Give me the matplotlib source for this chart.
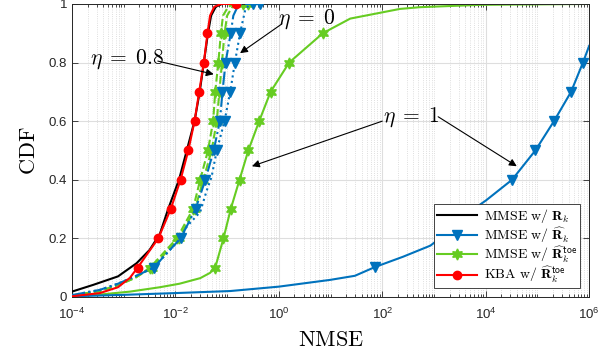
import numpy as np
import matplotlib
matplotlib.use('Agg')
import matplotlib.pyplot as plt
from matplotlib.lines import Line2D
from matplotlib.ticker import FixedLocator, NullFormatter

plt.rcParams['font.family'] = ['Liberation Sans', 'DejaVu Sans']
plt.rcParams['mathtext.fontset'] = 'cm'

BLUE = '#0072BD'
GREEN = '#66CC22'
RED = '#FF0000'
STAR = (6, 1, 0)

# log10(NMSE) and CDF values
black_lx = [-4.0, -3.59, -3.11, -2.75, -2.50, -2.30, -2.14, -1.93, -1.78, -1.63,
            -1.53, -1.45, -1.37, -1.31, -1.22, -1.10]
black_cdf = [0.018, 0.041, 0.070, 0.115, 0.160, 0.215, 0.30, 0.40, 0.50, 0.60,
             0.70, 0.80, 0.90, 0.96, 0.99, 1.0]

kba_lx = [-4.0, -3.46, -3.11, -2.88, -2.73, -2.33, -2.09, -1.90, -1.75, -1.63,
          -1.54, -1.45, -1.38, -1.33, -1.25, -1.12, -0.83]
kba_cdf = [0.002, 0.013, 0.033, 0.065, 0.10, 0.20, 0.30, 0.40, 0.50, 0.60,
           0.70, 0.80, 0.90, 0.96, 0.99, 1.0, 1.0]
kba_marks = [4, 5, 6, 7, 8, 9, 10, 11, 12, 16]

# eta = 0.8
hat08_lx = [-4.0, -3.46, -3.11, -2.78, -2.42, -1.90, -1.61, -1.42, -1.26, -1.14,
            -1.09, -1.03, -0.93, -0.88, -0.80, -0.72, -0.49]
hat08_cdf = [0.006, 0.024, 0.045, 0.07, 0.10, 0.20, 0.30, 0.40, 0.50, 0.60,
             0.70, 0.80, 0.90, 0.96, 0.99, 1.0, 1.0]
toe08_lx = [-4.0, -3.46, -3.11, -2.78, -2.49, -1.97, -1.66, -1.52, -1.37, -1.27,
            -1.23, -1.17, -1.12, -1.08, -0.98, -0.87, -0.69]
toe08_cdf = [0.005, 0.02, 0.04, 0.065, 0.10, 0.20, 0.30, 0.40, 0.50, 0.60,
             0.70, 0.80, 0.90, 0.96, 0.99, 1.0, 1.0]
eta08_marks = [4, 5, 6, 7, 8, 9, 10, 11, 12, 16]

# eta = 0
hat0_lx = [-4.0, -3.46, -3.11, -2.78, -2.42, -1.90, -1.78, -1.52, -1.40, -1.30,
           -1.20, -1.05, -0.94, -0.85, -0.75, -0.65, -0.56, -0.36]
hat0_cdf = [0.006, 0.024, 0.045, 0.07, 0.10, 0.20, 0.24, 0.29, 0.36, 0.41,
            0.50, 0.60, 0.70, 0.80, 0.90, 0.98, 1.0, 1.0]
hat0_marks = [10, 11, 12, 13, 14, 17]
toe0_lx = [-4.0, -3.46, -3.11, -2.78, -2.45, -1.93, -1.62, -1.46, -1.30, -1.20,
           -1.15, -1.10, -1.05, -1.00, -0.90, -0.78, -0.60]
toe0_cdf = toe08_cdf

# eta = 1
toe1_lx = [-4.0, -3.46, -2.88, -2.30, -1.92, -1.52, -1.33, -1.23, -1.07, -0.93,
           -0.76, -0.59, -0.38, -0.16, 0.20, 0.85, 1.38, 2.34, 2.73, 3.90, 6.0]
toe1_cdf = [0.003, 0.008, 0.018, 0.033, 0.045, 0.064, 0.082, 0.10, 0.20, 0.30,
            0.40, 0.50, 0.60, 0.70, 0.80, 0.90, 0.95, 0.983, 0.989, 0.997, 1.0]
toe1_marks = [7, 8, 9, 10, 11, 12, 13, 14, 15]
hat1_lx = [-4.0, -3.0, -2.0, -0.94, 0.0, 0.99, 1.47, 1.86, 2.40, 2.93,
           3.41, 3.85, 4.01, 4.51, 4.96, 5.32, 5.65, 5.88, 6.0]
hat1_cdf = [0.002, 0.007, 0.013, 0.02, 0.035, 0.058, 0.072, 0.102, 0.137, 0.175,
            0.24, 0.31, 0.33, 0.40, 0.50, 0.60, 0.70, 0.80, 0.857]
hat1_marks = [7, 13, 14, 15, 16, 17]

legend_labels = [r'$\mathrm{MMSE\ w/\ }\mathbf{R}_k$',
                 r'$\mathrm{MMSE\ w/\ }\widehat{\mathbf{R}}_k$',
                 r'$\mathrm{MMSE\ w/\ }\widehat{\mathbf{R}}_k^{\mathsf{toe}}$',
                 r'$\mathrm{KBA\ w/\ }\widehat{\mathbf{R}}_k^{\mathsf{toe}}$']

eta_labels = [r'$\eta\;=\;0.8$', r'$\eta\;=\;0$', r'$\eta\;=\;1$']
eta_text_pos = [(-2.94, 0.812), (0.54, 0.949), (2.56, 0.613)]
eta_arrows = [[(-2.34, 0.805, -1.26, 0.760)],
              [(0.06, 0.932, -0.75, 0.832)],
              [(2.00, 0.600, -0.52, 0.446), (3.08, 0.615, 4.60, 0.446)]]

ytick_vals = [0, 0.2, 0.4, 0.6, 0.8, 1]
ytick_labels = ['0', '0.2', '0.4', '0.6', '0.8', '1']
xtick_exps = [-4, -2, 0, 2, 4, 6]

fig = plt.figure(figsize=(6.15, 3.59), dpi=100)
ax = fig.add_axes([0.117, 0.173, 0.841, 0.816])


def curve(lx, cdf, color, ls, marker=None, ms=6, marks=None, z=2):
    ax.plot(10.0 ** np.array(lx), cdf, color=color, ls=ls, lw=1.5,
            marker=marker, ms=ms, markevery=marks, mfc=color, mec=color,
            zorder=z)


curve(toe08_lx, toe08_cdf, GREEN, '--', STAR, 8, eta08_marks)
curve(toe0_lx, toe0_cdf, GREEN, '--', STAR, 8, eta08_marks)
curve(toe1_lx, toe1_cdf, GREEN, '-', STAR, 8, toe1_marks)
curve(hat08_lx, hat08_cdf, BLUE, '-.', 'v', 7, eta08_marks, 3)
curve(hat0_lx, hat0_cdf, BLUE, ':', 'v', 7, hat0_marks, 3)
curve(hat1_lx, hat1_cdf, BLUE, '-', 'v', 7, hat1_marks, 3)
curve(black_lx, black_cdf, 'k', '-', z=4)
curve(kba_lx, kba_cdf, RED, '-', 'o', 6, kba_marks, 5)

for label, (tx, ty), arrows in zip(eta_labels, eta_text_pos, eta_arrows):
    ax.text(10 ** tx, ty, label, fontsize=15.5, ha='center', va='center',
            math_fontfamily='cm', zorder=6)
    for x0, y0, x1, y1 in arrows:
        ax.annotate('', xy=(10 ** x1, y1), xytext=(10 ** x0, y0),
                    arrowprops=dict(arrowstyle='-|>', color='k', lw=0.8,
                                    mutation_scale=11, shrinkA=0, shrinkB=0),
                    zorder=6)

ax.set_xscale('log')
ax.set_xlim(1e-4, 1e6)
ax.set_ylim(0, 1)
ax.xaxis.set_major_locator(FixedLocator([10.0 ** e for e in xtick_exps]))
minor = [m * 10.0 ** e for e in range(-4, 6) for m in range(1, 10)
         if not (m == 1 and e % 2 == 0)]
ax.xaxis.set_minor_locator(FixedLocator(minor))
ax.xaxis.set_minor_formatter(NullFormatter())
ax.set_yticks(ytick_vals)
ax.set_yticklabels(ytick_labels)

ax.tick_params(which='both', direction='in', top=True, right=True,
               colors='#262626', labelsize=9.5, width=0.6)
ax.tick_params(which='major', length=4)
ax.tick_params(which='minor', length=2)
ax.tick_params(axis='x', which='major', pad=7)
ax.grid(True, which='major', color='#dedede', lw=0.8)
ax.grid(True, which='minor', axis='x', color='#d4d4d4', ls=':', lw=0.6)
ax.set_axisbelow(True)
for s in ax.spines.values():
    s.set_color('#262626')
    s.set_linewidth(0.7)

ax.set_xlabel(r'$\mathrm{NMSE}$', fontsize=16, labelpad=6)
ax.set_ylabel(r'$\mathrm{CDF}$', fontsize=16, labelpad=6)

handles = [Line2D([], [], color='k', lw=1.5),
           Line2D([], [], color=BLUE, lw=1.5, marker='v', ms=7),
           Line2D([], [], color=GREEN, lw=1.5, marker=STAR, ms=8),
           Line2D([], [], color=RED, lw=1.5, marker='o', ms=6)]
leg = ax.legend(handles, legend_labels, loc='lower right', fontsize=10,
                fancybox=False, framealpha=1, edgecolor='#262626',
                borderaxespad=0.65, handlelength=2.9, labelspacing=0.0,
                borderpad=0.2, handletextpad=0.5)
leg.get_frame().set_linewidth(0.6)
leg.set_zorder(7)

fig.savefig('out.png', dpi=100)
